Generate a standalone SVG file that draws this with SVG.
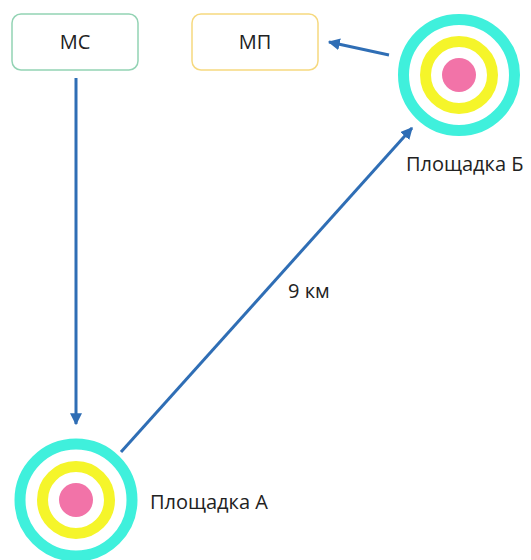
<svg xmlns="http://www.w3.org/2000/svg" width="531" height="560" viewBox="0 0 531 560">
<style>
.box{fill:#fff;stroke-width:1.5}
.lbl{font-family:"Open Sans","Liberation Sans",sans-serif;font-size:20px;fill:#222}
.conn{stroke:#2f6eb5;stroke-width:3;fill:none}
.cy{fill:none;stroke:#3ff0dc;stroke-width:11}
.ye{fill:none;stroke:#f5f52a;stroke-width:11}
.pk{fill:#f273a8}
</style>
<defs>
<marker id="ah" viewBox="0 0 10 10" refX="9" refY="5" markerWidth="4" markerHeight="4" orient="auto" markerUnits="strokeWidth">
<path d="M0,0 L10,5 L0,10 z" fill="#2f6eb5"/>
</marker>
</defs>
<rect width="531" height="560" fill="#fff"/>
<g id="connectors">
<line class="conn" x1="76" y1="78" x2="76" y2="424" marker-end="url(#ah)"/>
<line class="conn" x1="121" y1="452" x2="412" y2="128" marker-end="url(#ah)"/>
<line class="conn" x1="389" y1="55" x2="329" y2="42" marker-end="url(#ah)"/>
</g>
<g id="node-mc">
<rect class="box" x="12" y="14" width="126" height="56" rx="9" stroke="#93d3b4"/>
<text class="lbl" x="75" y="49" text-anchor="middle">МС</text>
</g>
<g id="node-mp">
<rect class="box" x="192" y="14" width="126" height="56" rx="9" stroke="#f6d97f"/>
<text class="lbl" x="255" y="49" text-anchor="middle">МП</text>
</g>
<g id="node-b">
<circle class="cy" cx="459" cy="75" r="55.5"/>
<circle class="ye" cx="459" cy="75" r="33.5"/>
<circle class="pk" cx="459" cy="75" r="17"/>
<text class="lbl" x="406" y="171">Площадка Б</text>
</g>
<g id="node-a">
<circle class="cy" cx="76" cy="500" r="56"/>
<circle class="ye" cx="76" cy="500" r="33.5"/>
<circle class="pk" cx="76" cy="500" r="17"/>
<text class="lbl" x="150" y="509">Площадка А</text>
</g>
<text class="lbl" x="288" y="298">9 км</text>
</svg>
